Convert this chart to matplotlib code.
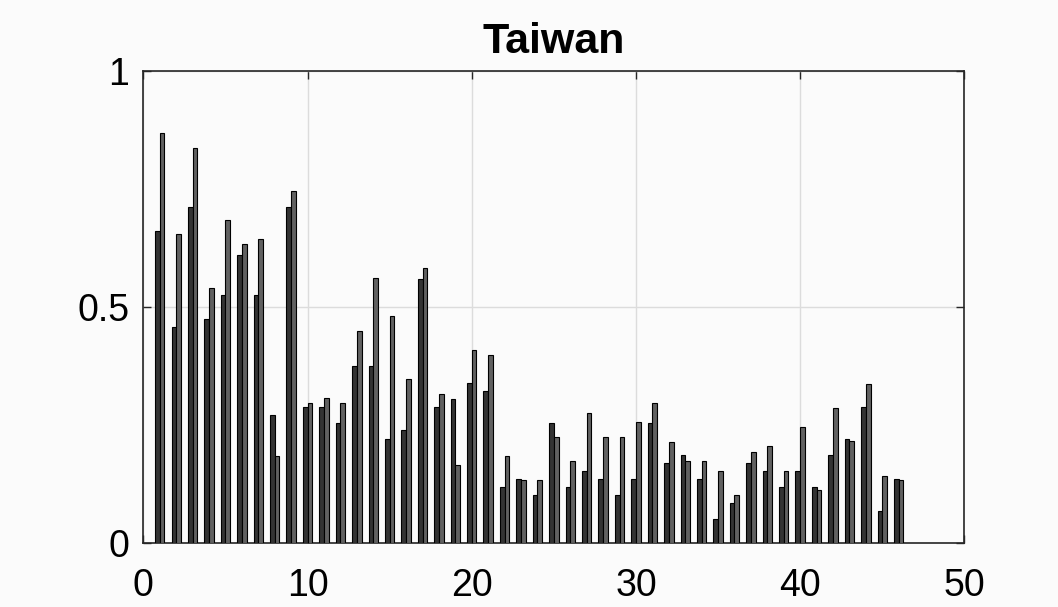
import matplotlib
matplotlib.use("Agg")
import numpy as np
import matplotlib.pyplot as plt

plt.rcParams["font.family"] = ["Liberation Sans", "DejaVu Sans"]

# two series per index 1..46
series_a = [0.661, 0.458, 0.712, 0.475, 0.526, 0.610, 0.526, 0.271, 0.712, 0.288,
            0.288, 0.254, 0.374, 0.374, 0.220, 0.238, 0.560, 0.288, 0.305, 0.339,
            0.322, 0.118, 0.135, 0.101, 0.254, 0.118, 0.152, 0.135, 0.101, 0.135,
            0.254, 0.169, 0.186, 0.135, 0.050, 0.084, 0.169, 0.152, 0.118, 0.152,
            0.118, 0.186, 0.220, 0.288, 0.067, 0.135]
series_b = [0.868, 0.654, 0.837, 0.541, 0.684, 0.633, 0.643, 0.183, 0.745, 0.297,
            0.306, 0.297, 0.449, 0.562, 0.480, 0.347, 0.582, 0.316, 0.164, 0.408,
            0.398, 0.184, 0.133, 0.133, 0.224, 0.173, 0.275, 0.224, 0.224, 0.255,
            0.296, 0.214, 0.173, 0.173, 0.152, 0.101, 0.193, 0.204, 0.152, 0.245,
            0.112, 0.286, 0.215, 0.337, 0.142, 0.133]
idx = np.arange(1, len(series_a) + 1)

bg = "#fbfbfb"
fig = plt.figure(figsize=(10.58, 6.07), dpi=100, facecolor=bg)
ax = fig.add_axes([0.1355, 0.106, 0.776, 0.777], facecolor=bg)

w = 0.286
ax.bar(idx - w / 2, series_a, width=w, color="#333333", edgecolor="black",
       linewidth=0.8, zorder=3)
ax.bar(idx + w / 2, series_b, width=w, color="#616161", edgecolor="black",
       linewidth=0.8, zorder=3)

ax.set_xlim(0, 50)
ax.set_ylim(0, 1)
ax.set_xticks([0, 10, 20, 30, 40, 50])
ax.set_yticks([0, 0.5, 1])
ax.set_yticklabels(["0", "0.5", "1"])
ax.grid(True, color="#dcdcdc", linewidth=1.0, zorder=0)
ax.set_axisbelow(True)

for s in ax.spines.values():
    s.set_color("#262626")
    s.set_linewidth(1.2)
ax.tick_params(direction="in", top=True, right=True, length=6, width=1.0,
               color="#262626", labelsize=27)
ax.tick_params(axis="x", pad=18)
ax.tick_params(axis="y", pad=10)

ax.set_title("Taiwan", fontsize=31, fontweight="bold", pad=13)

fig.savefig("out.png", dpi=100, facecolor=bg)
